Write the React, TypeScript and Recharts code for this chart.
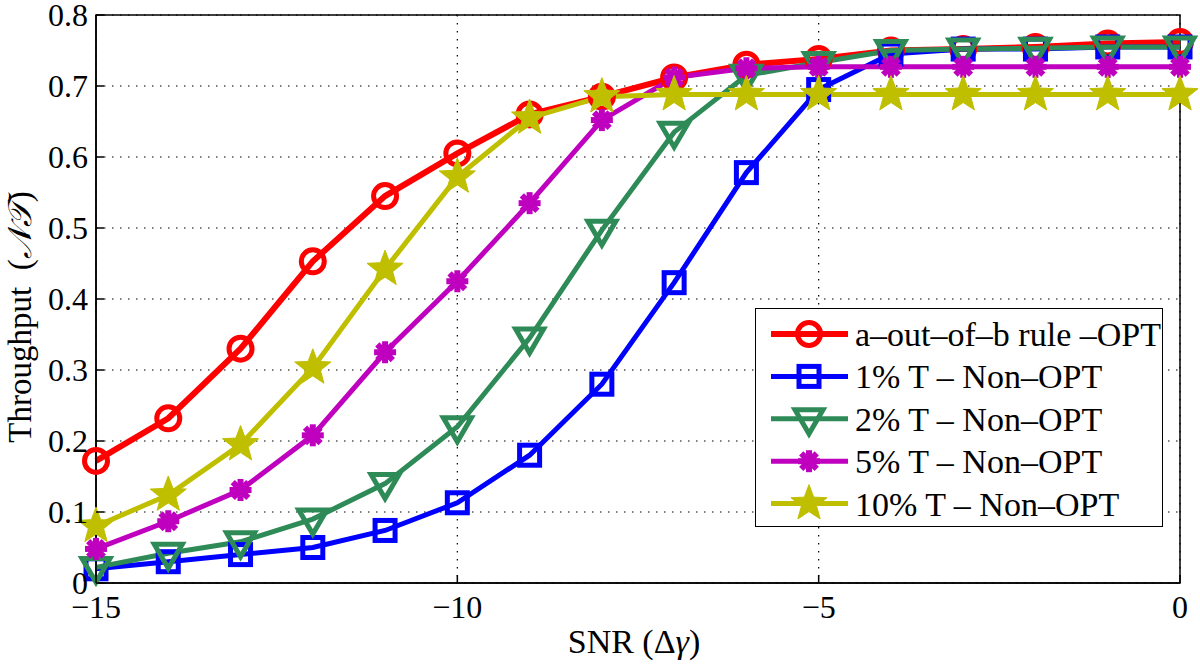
import React from 'react';
import {
  LineChart, Line, XAxis, YAxis, CartesianGrid, ReferenceArea, Legend,
} from 'recharts';

const snr = [-15, -14, -13, -12, -11, -10, -9, -8, -7, -6, -5, -4, -3, -2, -1, 0];
const optRule = [0.172, 0.232, 0.33, 0.453, 0.545, 0.605, 0.66, 0.685, 0.712, 0.73, 0.738, 0.75, 0.752, 0.755, 0.76, 0.762];
const t1 = [0.02, 0.03, 0.04, 0.05, 0.074, 0.113, 0.18, 0.28, 0.423, 0.578, 0.695, 0.745, 0.752, 0.752, 0.755, 0.755];
const t2 = [0.022, 0.042, 0.058, 0.09, 0.14, 0.22, 0.345, 0.497, 0.635, 0.715, 0.733, 0.75, 0.752, 0.753, 0.755, 0.755];
const t5 = [0.048, 0.087, 0.131, 0.208, 0.325, 0.425, 0.535, 0.652, 0.712, 0.725, 0.727, 0.727, 0.727, 0.727, 0.727, 0.727];
const t10 = [0.08, 0.124, 0.195, 0.303, 0.442, 0.572, 0.655, 0.685, 0.688, 0.688, 0.688, 0.688, 0.688, 0.688, 0.688, 0.688];

const xTicks = [-15, -10, -5, 0];
const yTicks = [0, 0.1, 0.2, 0.3, 0.4, 0.5, 0.6, 0.7, 0.8];

const FONT = '"Liberation Serif", "Times New Roman", serif';

const data = snr.map((x, i) => ({
  snr: x, opt: optRule[i], t1: t1[i], t2: t2[i], t5: t5[i], t10: t10[i],
}));

type Shape = 'circle' | 'square' | 'triangle' | 'asterisk' | 'star';

const series: { key: string; name: string; color: string; shape: Shape; width: number }[] = [
  { key: 'opt', name: 'a\u2013out\u2013of\u2013b rule \u2013OPT', color: '#ff0000', shape: 'circle', width: 6 },
  { key: 't1', name: '1% T \u2013 Non\u2013OPT', color: '#0000ff', shape: 'square', width: 5 },
  { key: 't2', name: '2% T \u2013 Non\u2013OPT', color: '#2e8b57', shape: 'triangle', width: 5 },
  { key: 't5', name: '5% T \u2013 Non\u2013OPT', color: '#bf00bf', shape: 'asterisk', width: 5 },
  { key: 't10', name: '10% T \u2013 Non\u2013OPT', color: '#bfbf00', shape: 'star', width: 5 },
];

function starPoints(cx: number, cy: number, R: number, r: number) {
  const pts: string[] = [];
  for (let i = 0; i < 10; i++) {
    const ang = -Math.PI / 2 + (i * Math.PI) / 5;
    const rad = i % 2 === 0 ? R : r;
    pts.push(`${cx + rad * Math.cos(ang)},${cy + rad * Math.sin(ang)}`);
  }
  return pts.join(' ');
}

function Marker({ cx, cy, shape, color }: { cx: number; cy: number; shape: Shape; color: string }) {
  if (cx == null || cy == null) return null;
  switch (shape) {
    case 'circle':
      return <circle cx={cx} cy={cy} r={11.5} fill="none" stroke={color} strokeWidth={5} />;
    case 'square':
      return <rect x={cx - 10} y={cy - 10} width={20} height={20} fill="none" stroke={color} strokeWidth={5} />;
    case 'triangle':
      return (
        <polygon
          points={`${cx - 14},${cy - 9} ${cx + 14},${cy - 9} ${cx},${cy + 15}`}
          fill="none" stroke={color} strokeWidth={5} strokeLinejoin="miter"
        />
      );
    case 'asterisk': {
      const L = 11;
      const lines = [0, 45, 90, 135].map((a) => {
        const rad = (a * Math.PI) / 180;
        return (
          <line key={a} x1={cx - L * Math.cos(rad)} y1={cy - L * Math.sin(rad)}
            x2={cx + L * Math.cos(rad)} y2={cy + L * Math.sin(rad)}
            stroke={color} strokeWidth={6} />
        );
      });
      return <g>{lines}<circle cx={cx} cy={cy} r={6} fill={color} /></g>;
    }
    case 'star':
      return <polygon points={starPoints(cx, cy, 19, 8)} fill={color} stroke={color} strokeWidth={1} />;
    default:
      return null;
  }
}

const makeDot = (shape: Shape, color: string) => (props: any) => {
  const { cx, cy, index } = props;
  return <Marker key={`m-${shape}-${index}`} cx={cx} cy={cy} shape={shape} color={color} />;
};

const LeftTick = (props: any) => {
  const { x, y, payload } = props;
  const v = payload.value as number;
  const label = v === 0 ? '0' : v.toFixed(1);
  return (
    <g>
      <text x={x} y={y} dy="0.35em" textAnchor="end" fontFamily={FONT} fontSize={32} fill="#000">{label}</text>
      <line x1={x + 8} x2={x + 16} y1={y} y2={y} stroke="#000" strokeWidth={1.5} />
    </g>
  );
};

const RightTick = (props: any) => {
  const { x, y } = props;
  return <line x1={x - 8} x2={x} y1={y} y2={y} stroke="#000" strokeWidth={1.5} />;
};

const BottomTick = (props: any) => {
  const { x, y, payload } = props;
  const v = payload.value as number;
  const label = v < 0 ? `\u2212${Math.abs(v)}` : `${v}`;
  return (
    <g>
      <text x={x} y={y + 35} textAnchor="middle" fontFamily={FONT} fontSize={32} fill="#000">{label}</text>
      <line x1={x} x2={x} y1={y} y2={y - 8} stroke="#000" strokeWidth={1.5} />
    </g>
  );
};

const TopTick = (props: any) => {
  const { x, y } = props;
  return <line x1={x} x2={x} y1={y} y2={y + 8} stroke="#000" strokeWidth={1.5} />;
};

const LegendBox = () => (
  <div
    style={{
      width: 408, height: 219, border: '1.5px solid #000', background: '#fff', boxSizing: 'border-box',
    }}
  >
    <svg width={408} height={219}>
      {series.map((s, i) => {
        const cy = 25 + i * 42.4;
        return (
          <g key={s.key}>
            <line x1={15} x2={92} y1={cy} y2={cy} stroke={s.color} strokeWidth={s.width} />
            <Marker cx={53} cy={cy} shape={s.shape} color={s.color} />
            <text x={99} y={cy} dy="0.35em" fontFamily={FONT} fontSize={34} fill="#000">{s.name}</text>
          </g>
        );
      })}
    </svg>
  </div>
);

export default function App() {
  return (
    <div style={{ position: 'absolute', left: 0, top: 0, width: 1200, height: 664, background: '#fff' }}>
      <LineChart
        width={1200}
        height={664}
        data={data}
        margin={{ top: 15, right: 20, bottom: 0, left: 0 }}
      >
        <CartesianGrid stroke="#000" strokeDasharray="1.5 6.5" strokeWidth={1.2} />
        <XAxis
          dataKey="snr" type="number" domain={[-15, 0]} ticks={xTicks} height={81}
          tickLine={false} tickSize={0} tickMargin={0} tick={<BottomTick />}
          axisLine={{ stroke: '#000', strokeWidth: 1.5 }} interval={0}
        />
        <XAxis
          xAxisId="top" orientation="top" dataKey="snr" type="number" domain={[-15, 0]} ticks={xTicks}
          height={0} tickLine={false} tickSize={0} tickMargin={0} tick={<TopTick />} axisLine={false} interval={0}
        />
        <YAxis
          type="number" domain={[0, 0.8]} ticks={yTicks} width={96}
          tickLine={false} tickSize={0} tickMargin={8} tick={<LeftTick />}
          axisLine={{ stroke: '#000', strokeWidth: 1.5 }} interval={0}
        />
        <YAxis
          yAxisId="right" orientation="right" type="number" domain={[0, 0.8]} ticks={yTicks} width={0}
          tickLine={false} tickSize={0} tickMargin={0} tick={<RightTick />} axisLine={false} interval={0}
        />
        <ReferenceArea x1={-15} x2={0} y1={0} y2={0.8} fill="none" fillOpacity={0} stroke="#000" strokeWidth={1.5} />
        {series.map((s) => (
          <Line
            key={s.key}
            dataKey={s.key}
            name={s.name}
            stroke={s.color}
            strokeWidth={s.width}
            dot={makeDot(s.shape, s.color)}
            activeDot={false}
            isAnimationActive={false}
            type="linear"
          />
        ))}
        <Legend
          layout="vertical" align="center" verticalAlign="middle"
          content={() => <LegendBox />}
          wrapperStyle={{ position: 'absolute', left: 755, top: 308, width: 408, height: 219 }}
        />
      </LineChart>
      <div
        style={{
          position: 'absolute', left: 20, top: 317, transform: 'translate(-50%, -50%) rotate(-90deg)',
          fontFamily: FONT, fontSize: 33, whiteSpace: 'nowrap', lineHeight: 1,
        }}
      >
        Throughput&nbsp;&nbsp;(<span style={{ fontStyle: 'italic' }}>{'\u{1D4A9}\u{1D4AF}'}</span>)
      </div>
      <div
        style={{
          position: 'absolute', left: 634, top: 642, transform: 'translate(-50%, -50%)',
          fontFamily: FONT, fontSize: 34, whiteSpace: 'nowrap', lineHeight: 1,
        }}
      >
        SNR (Δ<span style={{ fontStyle: 'italic' }}>γ</span>)
      </div>
    </div>
  );
}
